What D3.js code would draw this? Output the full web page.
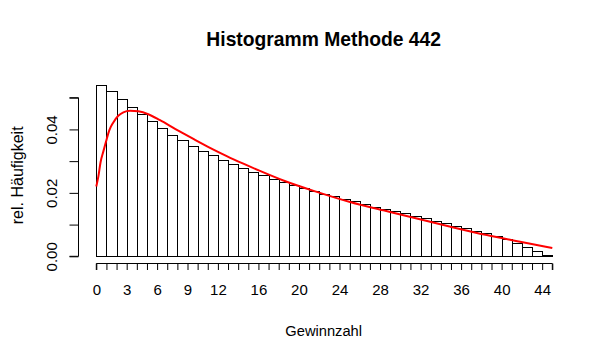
<!DOCTYPE html>
<html><head><meta charset="utf-8">
<script src="https://cdn.jsdelivr.net/npm/d3@7"></script>
<style>body{margin:0;background:#fff}svg{display:block}text{font-family:"Liberation Sans",Arial,sans-serif;fill:#000}</style>
</head><body><svg id="c" width="611" height="361"></svg>
<script>
// Data
const binStarts = d3.range(0, 45);
const relFreq = [0.0539,0.0521,0.0495,0.0470,0.0448,0.0426,0.0404,0.0382,0.0366,0.0347,
  0.0331,0.0319,0.0303,0.0290,0.0278,0.0265,0.0256,0.0243,0.0233,0.0224,
  0.0215,0.0205,0.0197,0.0189,0.0180,0.0174,0.0164,0.0156,0.0148,0.0142,
  0.0136,0.0127,0.0120,0.0111,0.0104,0.0095,0.0088,0.0079,0.0073,0.0063,
  0.0054,0.0041,0.0028,0.0016,0.0003];
const densX = [0,0.2,0.43,0.69,0.96,1.29,1.68,2.17,2.67,3.33,4.15,5.13,6.29,7.77,9.58,11.22,12.87,14.51,16.09,18.46,21.76,25.04,28.33,31.63,34.85,38.54,41.83,45];
const densY = [0.0220,0.0251,0.0298,0.0330,0.0362,0.0398,0.0422,0.0443,0.0454,0.0459,0.0457,0.0448,0.0429,0.0402,0.0370,0.0342,0.0316,0.0292,0.0270,0.0239,0.0203,0.0171,0.0145,0.0119,0.0094,0.0067,0.0046,0.0026];
const xTicks = d3.range(0, 46);
const xTickLabels = [0,3,6,9,12,16,20,24,28,32,36,40,44];
const yTicks = [0,0.01,0.02,0.03,0.04,0.05];
const yTickLabels = [0,0.02,0.04];

const svg = d3.select("#c");
const x = d3.scaleLinear().domain([0,45]).range([96.3,552.3]);
const y = d3.scaleLinear().domain([0,0.05]).range([256.3,97.7]);

// bars
svg.append("g").selectAll("rect").data(binStarts).join("rect")
  .attr("x", d => Math.round(x(d)) + 0.5)
  .attr("width", d => Math.round(x(d+1)) - Math.round(x(d)))
  .attr("y", (d,i) => Math.round(y(relFreq[i])) + 0.5)
  .attr("height", (d,i) => Math.round(y(0)) - Math.round(y(relFreq[i])))
  .attr("fill", "none").attr("stroke", "#000").attr("stroke-width", 1);

// density line
const line = d3.line().x(d => x(d[0])).y(d => y(d[1])).curve(d3.curveMonotoneX);
svg.append("path").datum(densX.map((v,i)=>[v,densY[i]]))
  .attr("d", line).attr("fill","none").attr("stroke","#ff0000").attr("stroke-width",2);

// x axis
const xAxis = d3.axisBottom(x).tickValues(xTicks).tickSize(6.5).tickPadding(18)
  .tickFormat(d => xTickLabels.includes(d) ? d : "");
const gx = svg.append("g").attr("transform","translate(0,263.5)").call(xAxis);
gx.select(".domain").attr("d", `M${x(0)},6.5V0H${x(45)}V6.5`).attr("stroke","#000");
gx.selectAll(".tick line").attr("stroke","#000");
gx.selectAll("text").attr("font-size","15px").attr("font-family","Liberation Sans, Arial, sans-serif").attr("fill","#000").attr("dy","0.71em").attr("y",20.5);

// y axis
const yAxis = d3.axisLeft(y).tickValues(yTicks).tickSize(9)
  .tickFormat(d => yTickLabels.some(v=>Math.abs(v-d)<1e-9) ? d3.format(".2f")(d) : "");
const gy = svg.append("g").attr("transform","translate(78.5,0)").call(yAxis);
gy.select(".domain").attr("d", `M-9,${y(0.05)}H0V${y(0)}H-9`).attr("stroke","#000");
gy.selectAll(".tick line").attr("stroke","#000");
gy.selectAll("text").attr("font-size","15px").attr("font-family","Liberation Sans, Arial, sans-serif").attr("fill","#000")
  .attr("x",null).attr("dy",null)
  .attr("transform","translate(-21.5,0) rotate(-90)").attr("text-anchor","middle");

// title and labels
svg.append("text").attr("x",323.7).attr("y",45.7).attr("text-anchor","middle")
  .attr("font-size","19.3px").attr("font-weight","bold").text("Histogramm Methode 442");
svg.append("text").attr("x",323.7).attr("y",335.7).attr("text-anchor","middle")
  .attr("font-size","14.7px").text("Gewinnzahl");
svg.append("text").attr("transform","translate(23.3,175.3) rotate(-90)").attr("text-anchor","middle")
  .attr("font-size","16px").text("rel. Häufigkeit");
</script></body></html>
